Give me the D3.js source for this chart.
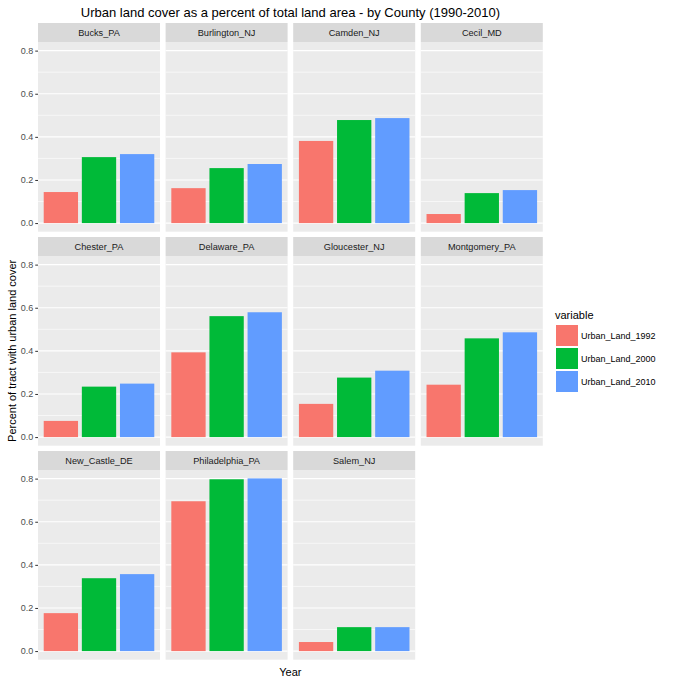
<!DOCTYPE html>
<html>
<head>
<meta charset="utf-8">
<script src="https://cdn.jsdelivr.net/npm/d3@7"></script>
<style>
  html, body { margin: 0; padding: 0; background: #ffffff; }
  svg { display: block; font-family: "Liberation Sans", Arial, sans-serif; }
</style>
</head>
<body>
<svg id="chart" width="675" height="682"></svg>
<script>
// ---- data ----
const counties = ["Bucks_PA", "Burlington_NJ", "Camden_NJ", "Cecil_MD",
                  "Chester_PA", "Delaware_PA", "Gloucester_NJ", "Montgomery_PA",
                  "New_Castle_DE", "Philadelphia_PA", "Salem_NJ"];
const variables = ["Urban_Land_1992", "Urban_Land_2000", "Urban_Land_2010"];
const urban1992 = [0.144, 0.162, 0.381, 0.042, 0.075, 0.393, 0.154, 0.243, 0.176, 0.695, 0.042];
const urban2000 = [0.306, 0.255, 0.478, 0.139, 0.234, 0.561, 0.276, 0.458, 0.338, 0.797, 0.111];
const urban2010 = [0.320, 0.274, 0.487, 0.153, 0.248, 0.579, 0.308, 0.486, 0.357, 0.801, 0.111];
const yTicks = [0.0, 0.2, 0.4, 0.6, 0.8];
const yMinor = [0.1, 0.3, 0.5, 0.7];
const colors = ["#F8766D", "#00BA38", "#619CFF"];
const titleText = "Urban land cover as a percent of total land area - by County (1990-2010)";
const xLabel = "Year";
const yLabel = "Percent of tract with urban land cover";
const legendTitle = "variable";

// ---- layout ----
const svg = d3.select("#chart");
const leftX = 38, topY = 23, colPitch = 127.6, rowPitch = 214;
const panelW = 122, stripH = 19, panelH = 189.7, nCols = 4;

const series = [urban1992, urban2000, urban2010];

const x = d3.scaleBand().domain(variables).range([0, panelW])
  .paddingInner(0.1).paddingOuter(0.15);
const y = d3.scaleLinear().domain([-0.04, 0.84]).range([panelH, 0]);
const color = d3.scaleOrdinal().domain(variables).range(colors);

counties.forEach((county, i) => {
  const col = i % nCols, row = Math.floor(i / nCols);
  const gx = leftX + col * colPitch, gy = topY + row * rowPitch;
  const g = svg.append("g").attr("transform", `translate(${gx},${gy})`);

  // strip
  g.append("rect").attr("x", 0).attr("y", 0).attr("width", panelW).attr("height", stripH)
    .attr("fill", "#D9D9D9");
  g.append("text").attr("x", panelW / 2).attr("y", stripH / 2 + 3.3)
    .attr("text-anchor", "middle").attr("font-size", 9.2).attr("fill", "#1A1A1A")
    .text(county);

  const p = g.append("g").attr("transform", `translate(0,${stripH})`);
  p.append("rect").attr("width", panelW).attr("height", panelH).attr("fill", "#EBEBEB");

  p.selectAll("line.minor").data(yMinor).enter().append("line")
    .attr("x1", 0).attr("x2", panelW)
    .attr("y1", d => y(d)).attr("y2", d => y(d))
    .attr("stroke", "#ffffff").attr("stroke-width", 0.6);
  p.selectAll("line.major").data(yTicks).enter().append("line")
    .attr("x1", 0).attr("x2", panelW)
    .attr("y1", d => y(d)).attr("y2", d => y(d))
    .attr("stroke", "#ffffff").attr("stroke-width", 1.1);

  const vals = variables.map((v, k) => ({ v, value: series[k][i] }));
  p.selectAll("rect.bar").data(vals).enter().append("rect")
    .attr("class", "bar")
    .attr("x", d => x(d.v)).attr("width", x.bandwidth())
    .attr("y", d => y(d.value)).attr("height", d => y(0) - y(d.value))
    .attr("fill", d => color(d.v));

  if (col === 0) {
    const ax = p.append("g").call(d3.axisLeft(y).tickValues(yTicks)
      .tickFormat(d3.format(".1f")).tickSize(2.75).tickPadding(2));
    ax.select(".domain").remove();
    ax.selectAll("line").attr("stroke", "#333333");
    ax.selectAll("text").attr("fill", "#4D4D4D").attr("font-size", 9)
      .attr("font-family", "Liberation Sans, Arial, sans-serif");
  }
});

// title
const plotCenter = leftX + (3 * colPitch + panelW) / 2;
svg.append("text").attr("x", plotCenter).attr("y", 17)
  .attr("text-anchor", "middle").attr("font-size", 13).attr("fill", "#000")
  .text(titleText);

// axis titles
svg.append("text").attr("x", plotCenter).attr("y", 676)
  .attr("text-anchor", "middle").attr("font-size", 11).attr("fill", "#000")
  .text(xLabel);
const yMid = (topY + stripH + topY + 2 * rowPitch + stripH + panelH) / 2;
svg.append("text").attr("transform", `translate(16,${yMid}) rotate(-90)`)
  .attr("text-anchor", "middle").attr("font-size", 11).attr("fill", "#000")
  .text(yLabel);

// legend
const lg = svg.append("g").attr("transform", "translate(555,0)");
lg.append("text").attr("x", 0).attr("y", 319).attr("font-size", 11).attr("fill", "#000")
  .text(legendTitle);
variables.forEach((v, k) => {
  const ky = 325 + k * 23;
  lg.append("rect").attr("x", 1).attr("y", ky).attr("width", 22).attr("height", 21)
    .attr("fill", color(v));
  lg.append("text").attr("x", 26).attr("y", ky + 10.5 + 3.2)
    .attr("font-size", 9).attr("fill", "#000").text(v);
});
</script>
</body>
</html>
